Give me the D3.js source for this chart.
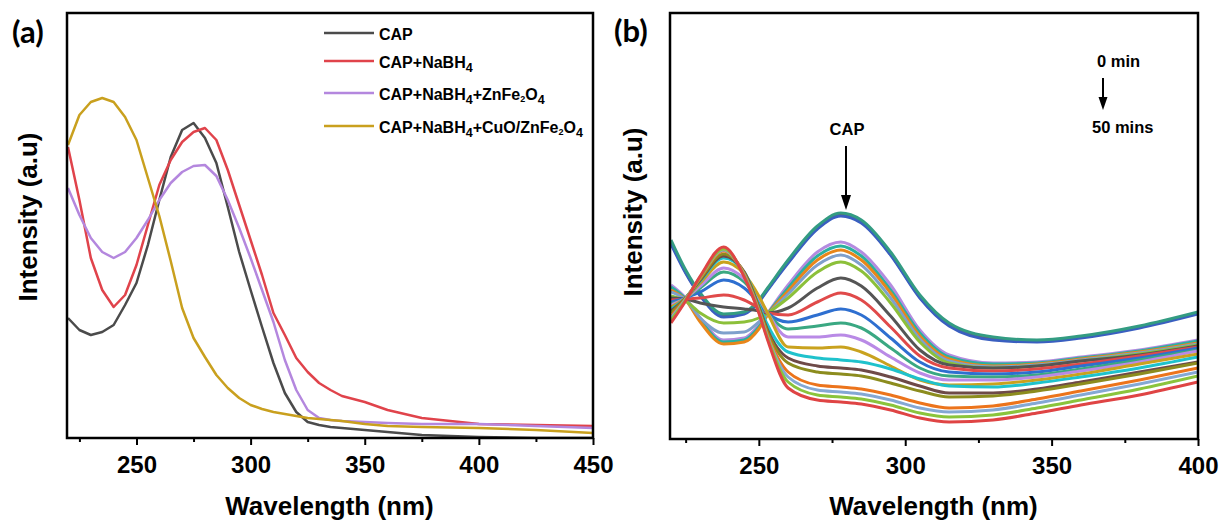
<!DOCTYPE html>
<html>
<head>
<meta charset="utf-8">
<script src="https://cdn.jsdelivr.net/npm/d3@7"></script>
<style>
  body { margin: 0; background: #fff; }
  text { font-family: "Liberation Sans", Arial, sans-serif; font-weight: bold; fill: #000; }
</style>
</head>
<body>
<div id="chart"></div>
<script>
// ---------- panel (a) data ----------
var wavelengthA = [220,225,230,235,240,245,250,255,260,265,270,275,280,285,290,295,300,305,310,315,320,325,330,335,340,350,360,375,400,425,450];
var capA   = [1.20,1.08,1.03,1.06,1.13,1.33,1.55,1.93,2.38,2.81,3.08,3.15,3.00,2.75,2.31,1.86,1.48,1.11,0.75,0.45,0.26,0.16,0.13,0.11,0.10,0.08,0.06,0.03,0.01,0.00,0.00];
var nabh4A = [2.91,2.38,1.80,1.48,1.31,1.43,1.73,2.13,2.53,2.78,2.96,3.06,3.10,2.98,2.68,2.33,1.98,1.63,1.25,1.03,0.80,0.66,0.55,0.48,0.42,0.36,0.28,0.20,0.14,0.13,0.12];
var znfeA  = [2.50,2.23,2.00,1.86,1.80,1.86,2.00,2.18,2.38,2.55,2.66,2.72,2.73,2.62,2.38,2.10,1.80,1.48,1.16,0.78,0.48,0.28,0.20,0.18,0.17,0.16,0.15,0.14,0.14,0.12,0.10];
var cuoA   = [2.93,3.23,3.36,3.40,3.36,3.21,2.98,2.60,2.22,1.77,1.30,1.00,0.81,0.63,0.50,0.40,0.33,0.29,0.26,0.24,0.22,0.20,0.19,0.18,0.17,0.14,0.12,0.11,0.10,0.08,0.05];
var seriesA = [capA, nabh4A, znfeA, cuoA];
var colorsA = ["#4b4b4b", "#e0434b", "#b487de", "#c9a01e"];
var majorA = [250,300,350,400,450];
var minorA = [225,275,325,375,425];

// ---------- panel (b) data (0 min ... 50 mins) ----------
var wavelengthB = [220,225,230,238,245,250,253,260,270,278,285,295,305,315,330,345,360,380,400];
var t00a = [1.97,1.67,1.44,1.23,1.26,1.38,1.50,1.77,2.11,2.24,2.17,1.85,1.42,1.14,1.00,0.98,1.02,1.12,1.26];
var t00b = [1.95,1.66,1.43,1.22,1.25,1.37,1.49,1.76,2.10,2.23,2.16,1.84,1.41,1.13,0.99,0.97,1.01,1.11,1.25];
var t00c = [1.99,1.69,1.46,1.25,1.27,1.39,1.51,1.79,2.13,2.26,2.19,1.87,1.44,1.16,1.02,0.99,1.03,1.13,1.27];
var t02 = [1.54,1.41,1.21,0.99,1.01,1.14,1.26,1.54,1.87,1.97,1.87,1.54,1.09,0.84,0.76,0.77,0.82,0.89,0.99];
var t04 = [1.52,1.40,1.19,0.97,0.99,1.12,1.25,1.51,1.83,1.93,1.83,1.49,1.06,0.82,0.75,0.76,0.81,0.88,0.98];
var t06 = [1.49,1.39,1.17,0.95,0.97,1.10,1.24,1.48,1.79,1.89,1.79,1.46,1.03,0.80,0.73,0.75,0.80,0.87,0.96];
var t08 = [1.47,1.39,1.21,1.06,1.07,1.17,1.25,1.45,1.74,1.84,1.74,1.41,1.00,0.78,0.72,0.74,0.79,0.86,0.95];
var t10 = [1.43,1.38,1.26,1.16,1.17,1.21,1.26,1.41,1.67,1.77,1.68,1.36,0.97,0.76,0.71,0.73,0.78,0.85,0.94];
var t12 = [1.41,1.40,1.36,1.32,1.30,1.28,1.26,1.31,1.51,1.61,1.53,1.23,0.89,0.74,0.71,0.73,0.78,0.84,0.93];
var t14 = [1.39,1.40,1.41,1.44,1.39,1.31,1.26,1.24,1.37,1.46,1.39,1.12,0.83,0.71,0.68,0.70,0.75,0.83,0.92];
var t16 = [1.37,1.41,1.47,1.59,1.51,1.36,1.26,1.17,1.24,1.30,1.24,1.01,0.77,0.67,0.65,0.67,0.73,0.81,0.91];
var t18 = [1.35,1.41,1.51,1.67,1.57,1.39,1.26,1.10,1.13,1.16,1.11,0.91,0.71,0.63,0.62,0.64,0.70,0.79,0.89];
var t20 = [1.34,1.41,1.53,1.71,1.60,1.41,1.26,1.02,1.02,1.04,0.99,0.82,0.66,0.59,0.59,0.62,0.68,0.77,0.88];
var t22 = [1.32,1.41,1.56,1.77,1.65,1.43,1.26,0.92,0.91,0.92,0.87,0.73,0.59,0.54,0.55,0.59,0.65,0.75,0.85];
var t26 = [1.30,1.41,1.58,1.81,1.67,1.34,1.14,0.87,0.81,0.79,0.77,0.70,0.60,0.53,0.52,0.56,0.62,0.71,0.82];
var t30 = [1.28,1.41,1.59,1.83,1.67,1.32,1.09,0.81,0.73,0.71,0.69,0.62,0.53,0.46,0.46,0.50,0.57,0.67,0.77];
var t34 = [1.26,1.41,1.60,1.85,1.66,1.31,1.07,0.76,0.67,0.65,0.63,0.56,0.48,0.42,0.43,0.48,0.55,0.65,0.76];
var t38 = [1.23,1.40,1.61,1.88,1.65,1.29,1.04,0.67,0.54,0.52,0.50,0.44,0.36,0.31,0.33,0.40,0.48,0.59,0.71];
var t42 = [1.21,1.40,1.62,1.89,1.64,1.28,1.02,0.62,0.49,0.47,0.45,0.39,0.31,0.27,0.29,0.36,0.44,0.55,0.67];
var t46 = [1.19,1.39,1.62,1.90,1.63,1.27,1.01,0.57,0.44,0.42,0.40,0.34,0.26,0.22,0.24,0.31,0.39,0.50,0.63];
var t50 = [1.16,1.38,1.63,1.92,1.62,1.26,0.99,0.51,0.39,0.37,0.35,0.29,0.21,0.17,0.19,0.26,0.34,0.44,0.57];
var seriesB = [t00a,t00b,t00c,t02,t04,t06,t08,t10,t12,t14,t16,t18,t20,t22,t26,t30,t34,t38,t42,t46,t50];
var colorsB = ["#9c3f4c","#3a5fc0","#339c82","#b48be0","#2bb0a0","#e8861a","#7fa0cc","#8cc03a",
               "#555555","#e04a4a","#2e6fd0","#3aa882","#b98ae6","#c9a21e","#1fc2cc","#6e4a48",
               "#8c8c1e","#ec741c","#84a8d4","#8ac43c","#df4444"];
var majorB = [250,300,350,400];
var minorB = [225,275,325,375];

var svg = d3.select("#chart")
  .append("svg")
    .attr("width", 1224)
    .attr("height", 525);

// draws frame, ticks, x label and curves of one panel
function drawPanel(id, x, y, wl, series, colors, major, minor, curve, width) {
  var x0 = x.range()[0], x1 = x.range()[1];
  var yb = y.range()[0], yt = y.range()[1];
  var g = svg.append("g");

  g.append("clipPath").attr("id", "clip" + id)
    .append("rect").attr("x", x0).attr("y", yt).attr("width", x1 - x0).attr("height", yb - yt);

  var line = d3.line()
    .x(function(d) { return x(d[0]); })
    .y(function(d) { return y(d[1]); })
    .curve(curve);

  g.append("g").attr("clip-path", "url(#clip" + id + ")")
    .selectAll("path")
    .data(series)
    .enter()
    .append("path")
      .attr("fill", "none")
      .attr("stroke", function(d, i) { return colors[i]; })
      .attr("stroke-width", width)
      .attr("stroke-linejoin", "round")
      .attr("d", function(d) { return line(d.map(function(v, i) { return [wl[i], v]; })); });

  // minor ticks
  var minorAxis = g.append("g")
    .attr("transform", "translate(0," + yb + ")")
    .call(d3.axisBottom(x).tickValues(minor).tickSize(4).tickFormat(""));
  minorAxis.select(".domain").remove();
  minorAxis.selectAll("line").attr("stroke-width", 2);

  // major ticks
  var majorAxis = g.append("g")
    .attr("transform", "translate(0," + yb + ")")
    .call(d3.axisBottom(x).tickValues(major).tickSize(7).tickPadding(11));
  majorAxis.select(".domain").remove();
  majorAxis.selectAll("line").attr("stroke-width", 2);
  majorAxis.selectAll("text")
    .style("font-family", "'Liberation Sans', Arial, sans-serif")
    .style("font-weight", "bold")
    .style("font-size", "24px")
    .attr("fill", "#000");

  // frame
  g.append("rect")
    .attr("x", x0 - 1).attr("y", yt)
    .attr("width", x1 - x0 + 1).attr("height", yb - yt)
    .attr("fill", "none").attr("stroke", "#000").attr("stroke-width", 2.5);

  g.append("text")
    .attr("text-anchor", "middle")
    .attr("x", (x0 + x1) / 2 - 1)
    .attr("y", 515)
    .style("font-size", "26px")
    .text("Wavelength (nm)");

  return g;
}

// ---------- panel (a) ----------
var xA = d3.scaleLinear().domain([220, 450]).range([68, 593]);
var yA = d3.scaleLinear().domain([0, 4.25]).range([438, 13]);
drawPanel("a", xA, yA, wavelengthA, seriesA, colorsA, majorA, minorA, d3.curveLinear, 2.5);

svg.append("text")
  .attr("transform", "translate(37,217) rotate(-90)")
  .attr("text-anchor", "middle")
  .style("font-size", "26px")
  .text("Intensity (a.u)");

svg.append("text")
  .attr("x", 12).attr("y", 43)
  .style("font-family", "Lato, 'Open Sans', sans-serif")
  .style("font-size", "31px")
  .text("(a)");

// legend: [text, 0 = normal, 1 = big subscript, 2 = small subscript]
var legendRows = [
  [["CAP", 0]],
  [["CAP+NaBH", 0], ["4", 1]],
  [["CAP+NaBH", 0], ["4", 1], ["+ZnFe", 0], ["2", 2], ["O", 0], ["4", 1]],
  [["CAP+NaBH", 0], ["4", 1], ["+CuO/ZnFe", 0], ["2", 2], ["O", 0], ["4", 1]]
];
var legendY = [33, 61, 93, 126];
var subShift = [0, 4, 2], subSize = [16, 12.5, 9];
legendRows.forEach(function(row, i) {
  svg.append("line")
    .attr("x1", 324).attr("x2", 374)
    .attr("y1", legendY[i]).attr("y2", legendY[i])
    .attr("stroke", colorsA[i]).attr("stroke-width", 2.5);
  var t = svg.append("text")
    .attr("x", 379).attr("y", legendY[i] + 7)
    .style("font-size", "16px");
  var cur = 0;
  row.forEach(function(p) {
    t.append("tspan")
      .attr("dy", subShift[p[1]] - cur)
      .style("font-size", subSize[p[1]] + "px")
      .text(p[0]);
    cur = subShift[p[1]];
  });
});

// ---------- panel (b) ----------
var xB = d3.scaleLinear().domain([220, 400]).range([671, 1198]);
var yB = d3.scaleLinear().domain([0, 4.26]).range([439, 13]);
drawPanel("b", xB, yB, wavelengthB, seriesB, colorsB, majorB, minorB, d3.curveMonotoneX, 3);

svg.append("text")
  .attr("transform", "translate(642,212) rotate(-90)")
  .attr("text-anchor", "middle")
  .style("font-size", "26px")
  .text("Intensity (a.u)");

svg.append("text")
  .attr("x", 614).attr("y", 42)
  .style("font-family", "Lato, 'Open Sans', sans-serif")
  .style("font-size", "31px")
  .text("(b)");

// annotations
function arrow(x, y1, y2, head, half) {
  svg.append("line")
    .attr("x1", x).attr("x2", x).attr("y1", y1).attr("y2", y2 - head + 1)
    .attr("stroke", "#000").attr("stroke-width", 2);
  svg.append("path")
    .attr("d", "M" + (x - half) + "," + (y2 - head) + "L" + (x + half) + "," + (y2 - head) + "L" + x + "," + y2 + "Z")
    .attr("fill", "#000");
}
svg.append("text").attr("x", 847).attr("y", 135).attr("text-anchor", "middle")
  .style("font-size", "16.5px").text("CAP");
arrow(846, 146, 210, 15, 5);

svg.append("text").attr("x", 1097).attr("y", 67).style("font-size", "16.5px").text("0 min");
arrow(1103, 78, 110, 13, 4.5);
svg.append("text").attr("x", 1092).attr("y", 133).style("font-size", "16.5px").text("50 mins");
</script>
</body>
</html>
